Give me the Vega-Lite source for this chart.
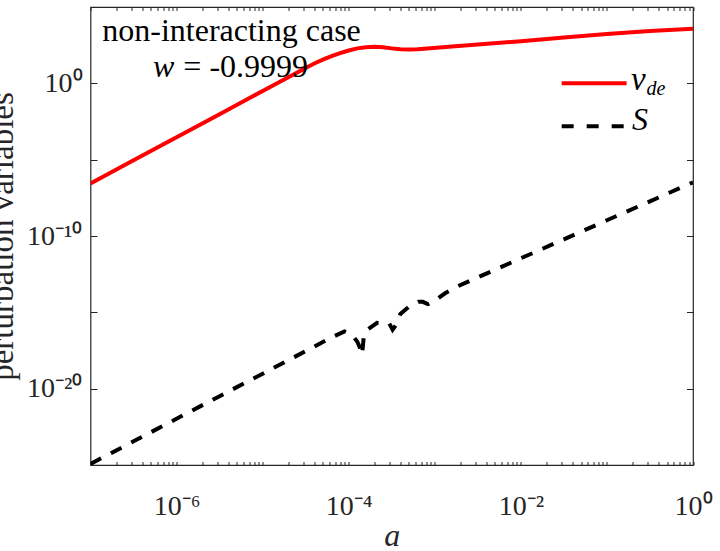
{
  "$schema": "https://vega.github.io/schema/vega-lite/v6.json",
  "width": 602.5,
  "height": 458,
  "autosize": {"type": "none"},
  "padding": {"left": 90.5, "top": 7, "right": 27, "bottom": 86},
  "background": "white",
  "config": {
    "view": {"stroke": "#262626", "strokeWidth": 1.2},
    "font": "Liberation Serif"
  },
  "datasets": {
    "curves": [
      {"series": "v_de", "a": 1e-7, "value": 2.754e-7},
      {"series": "v_de", "a": 3.162e-7, "value": 9.12e-6},
      {"series": "v_de", "a": 1e-6, "value": 2.951e-4},
      {"series": "v_de", "a": 3.162e-6, "value": 9.55e-3},
      {"series": "v_de", "a": 1e-5, "value": 0.3162},
      {"series": "v_de", "a": 3.162e-5, "value": 10.23},
      {"series": "v_de", "a": 3.981e-5, "value": 19.95},
      {"series": "v_de", "a": 5.012e-5, "value": 35.48},
      {"series": "v_de", "a": 6.31e-5, "value": 60.26},
      {"series": "v_de", "a": 7.943e-5, "value": 95.5},
      {"series": "v_de", "a": 1e-4, "value": 141.3},
      {"series": "v_de", "a": 1.259e-4, "value": 195.0},
      {"series": "v_de", "a": 1.585e-4, "value": 234.4},
      {"series": "v_de", "a": 1.995e-4, "value": 245.5},
      {"series": "v_de", "a": 2.512e-4, "value": 229.1},
      {"series": "v_de", "a": 3.162e-4, "value": 195.0},
      {"series": "v_de", "a": 3.981e-4, "value": 169.8},
      {"series": "v_de", "a": 5.012e-4, "value": 162.2},
      {"series": "v_de", "a": 6.31e-4, "value": 169.8},
      {"series": "v_de", "a": 8.913e-4, "value": 199.5},
      {"series": "v_de", "a": 1.585e-3, "value": 257.0},
      {"series": "v_de", "a": 3.162e-3, "value": 346.7},
      {"series": "v_de", "a": 0.01, "value": 575.4},
      {"series": "v_de", "a": 0.03162, "value": 1000},
      {"series": "v_de", "a": 0.1, "value": 1698},
      {"series": "v_de", "a": 0.3162, "value": 2692},
      {"series": "v_de", "a": 1, "value": 3802},
      {"series": "S", "a": 1e-7, "value": 1.175e-25},
      {"series": "S", "a": 3.162e-7, "value": 3.548e-24},
      {"series": "S", "a": 1e-6, "value": 1.072e-22},
      {"series": "S", "a": 3.162e-6, "value": 3.236e-21},
      {"series": "S", "a": 1e-5, "value": 9.55e-20},
      {"series": "S", "a": 3.162e-5, "value": 2.884e-18},
      {"series": "S", "a": 6.31e-5, "value": 2.239e-17},
      {"series": "S", "a": 8.913e-5, "value": 5.623e-17},
      {"series": "S", "a": 1.096e-4, "value": 3.388e-17},
      {"series": "S", "a": 1.259e-4, "value": 1.175e-17},
      {"series": "S", "a": 1.349e-4, "value": 4.786e-18},
      {"series": "S", "a": 1.429e-4, "value": 1.66e-18},
      {"series": "S", "a": 1.496e-4, "value": 2.512e-17},
      {"series": "S", "a": 1.585e-4, "value": 6.166e-17},
      {"series": "S", "a": 2.138e-4, "value": 2.042e-16},
      {"series": "S", "a": 2.951e-4, "value": 1.905e-16},
      {"series": "S", "a": 3.236e-4, "value": 7.244e-17},
      {"series": "S", "a": 3.548e-4, "value": 1.514e-16},
      {"series": "S", "a": 3.981e-4, "value": 7.943e-16},
      {"series": "S", "a": 5.129e-4, "value": 2.63e-15},
      {"series": "S", "a": 6.457e-4, "value": 4.898e-15},
      {"series": "S", "a": 7.244e-4, "value": 4.898e-15},
      {"series": "S", "a": 8.318e-4, "value": 3.467e-15},
      {"series": "S", "a": 1e-3, "value": 5.888e-15},
      {"series": "S", "a": 1.318e-3, "value": 1.778e-14},
      {"series": "S", "a": 1.82e-3, "value": 4.898e-14},
      {"series": "S", "a": 3.162e-3, "value": 1.95e-13},
      {"series": "S", "a": 0.01, "value": 3.467e-12},
      {"series": "S", "a": 0.03162, "value": 6.026e-11},
      {"series": "S", "a": 0.1, "value": 1.072e-9},
      {"series": "S", "a": 0.3162, "value": 1.862e-8},
      {"series": "S", "a": 1, "value": 3.311e-7}
    ]
  },
  "layer": [
    {
      "data": {"name": "curves"},
      "transform": [{"filter": "datum.series == 'v_de'"}],
      "mark": {"type": "line", "color": "#ff0000", "strokeWidth": 4, "clip": true},
      "encoding": {
        "x": {
          "field": "a", "type": "quantitative",
          "scale": {"type": "log", "domain": [1e-7, 1], "nice": false},
          "axis": {
            "orient": "bottom", "domain": false, "grid": false,
            "values": [1e-7, 2e-7, 3e-7, 4e-7, 5e-7, 6e-7, 7e-7, 8e-7, 9e-7,
                       1e-6, 2e-6, 3e-6, 4e-6, 5e-6, 6e-6, 7e-6, 8e-6, 9e-6,
                       1e-5, 2e-5, 3e-5, 4e-5, 5e-5, 6e-5, 7e-5, 8e-5, 9e-5,
                       1e-4, 2e-4, 3e-4, 4e-4, 5e-4, 6e-4, 7e-4, 8e-4, 9e-4,
                       1e-3, 2e-3, 3e-3, 4e-3, 5e-3, 6e-3, 7e-3, 8e-3, 9e-3,
                       0.01, 0.02, 0.03, 0.04, 0.05, 0.06, 0.07, 0.08, 0.09,
                       0.1, 0.2, 0.3, 0.4, 0.5, 0.6, 0.7, 0.8, 0.9, 1],
            "labelExpr": "datum.value == 1 ? '10⁰' : datum.value == 0.01 ? '10⁻²' : datum.value == 0.0001 ? '10⁻⁴' : datum.value == 0.000001 ? '10⁻⁶' : ''",
            "labelFont": "Liberation Serif", "labelFontSize": 28, "labelColor": "#262626",
            "labelPadding": 31, "labelOverlap": false, "labelFlush": false, "labelBound": false,
            "tickSize": -3.5, "tickColor": "#262626", "tickWidth": 1,
            "title": "a", "titleFont": "Liberation Serif", "titleFontSize": 32,
            "titleFontStyle": "italic", "titleFontWeight": "normal", "titleColor": "#262626",
            "titleY": 80, "titleBaseline": "alphabetic",
            "encode": {
              "ticks": {
                "update": {
                  "y2": [
                    {"test": "datum.value == 1 || datum.value == 0.01 || datum.value == 0.0001 || datum.value == 0.000001", "value": -7},
                    {"value": -3.5}
                  ]
                }
              }
            }
          }
        },
        "y": {
          "field": "value", "type": "quantitative",
          "scale": {"type": "log", "domain": [1e-25, 1e5], "nice": false},
          "axis": {
            "orient": "left", "domain": false, "grid": false,
            "values": [1e-20, 1e-15, 1e-10, 1e-5, 1],
            "labelExpr": "datum.value == 1 ? '10⁰' : datum.value > 1e-11 && datum.value < 1e-9 ? '10⁻¹⁰' : datum.value < 1e-19 && datum.value > 1e-21 ? '10⁻²⁰' : ''",
            "labelFont": "Liberation Serif", "labelFontSize": 28, "labelColor": "#262626",
            "labelPadding": 15, "labelOverlap": false, "labelBound": false, "labelFlush": false,
            "labelBaseline": "middle",
            "tickSize": -6.5, "tickColor": "#262626", "tickWidth": 1,
            "title": "perturbation variables", "titleFont": "Liberation Serif", "titleFontSize": 33,
            "titleFontWeight": "normal", "titleColor": "#262626",
            "titleAngle": 270, "titleX": -78, "titleY": 229,
            "titleAlign": "center", "titleBaseline": "alphabetic"
          }
        }
      }
    },
    {
      "data": {"name": "curves"},
      "transform": [{"filter": "datum.series == 'S'"}],
      "mark": {"type": "line", "color": "#000000", "strokeWidth": 4, "strokeDash": [12, 11], "clip": true},
      "encoding": {
        "x": {
          "field": "a", "type": "quantitative",
          "axis": {
            "orient": "top", "domain": false, "grid": false, "labels": false, "title": null,
            "values": [1e-7, 2e-7, 3e-7, 4e-7, 5e-7, 6e-7, 7e-7, 8e-7, 9e-7,
                       1e-6, 2e-6, 3e-6, 4e-6, 5e-6, 6e-6, 7e-6, 8e-6, 9e-6,
                       1e-5, 2e-5, 3e-5, 4e-5, 5e-5, 6e-5, 7e-5, 8e-5, 9e-5,
                       1e-4, 2e-4, 3e-4, 4e-4, 5e-4, 6e-4, 7e-4, 8e-4, 9e-4,
                       1e-3, 2e-3, 3e-3, 4e-3, 5e-3, 6e-3, 7e-3, 8e-3, 9e-3,
                       0.01, 0.02, 0.03, 0.04, 0.05, 0.06, 0.07, 0.08, 0.09,
                       0.1, 0.2, 0.3, 0.4, 0.5, 0.6, 0.7, 0.8, 0.9, 1],
            "tickSize": -3.5, "tickColor": "#262626", "tickWidth": 1,
            "encode": {
              "ticks": {
                "update": {
                  "y2": [
                    {"test": "datum.value == 1 || datum.value == 0.01 || datum.value == 0.0001 || datum.value == 0.000001", "value": 7},
                    {"value": 3.5}
                  ]
                }
              }
            }
          }
        },
        "y": {
          "field": "value", "type": "quantitative",
          "axis": {
            "orient": "right", "domain": false, "grid": false, "labels": false, "title": null,
            "values": [1e-20, 1e-15, 1e-10, 1e-5, 1],
            "tickSize": -6.5, "tickColor": "#262626", "tickWidth": 1
          }
        }
      }
    },
    {
      "data": {"values": [{}]},
      "mark": {"type": "rule", "color": "#ff0000", "strokeWidth": 4},
      "encoding": {
        "x": {"datum": 0.0298, "type": "quantitative", "axis": null},
        "x2": {"datum": 0.1694},
        "y": {"datum": 1, "type": "quantitative", "axis": null}
      }
    },
    {
      "data": {"values": [{}]},
      "mark": {"type": "rule", "color": "#000000", "strokeWidth": 4, "strokeDash": [12, 13]},
      "encoding": {
        "x": {"datum": 0.0298, "type": "quantitative", "axis": null},
        "x2": {"datum": 0.1694},
        "y": {"datum": 0.00155, "type": "quantitative", "axis": null}
      }
    },
    {
      "data": {"values": [{}]},
      "mark": {"type": "text", "text": "v", "font": "Liberation Serif", "fontStyle": "italic", "fontSize": 33, "align": "left", "baseline": "alphabetic", "color": "#000000"},
      "encoding": {
        "x": {"datum": 0.1905, "type": "quantitative", "axis": null},
        "y": {"datum": 0.348, "type": "quantitative", "axis": null}
      }
    },
    {
      "data": {"values": [{}]},
      "mark": {"type": "text", "text": "de", "font": "Liberation Serif", "fontStyle": "italic", "fontSize": 20, "align": "left", "baseline": "alphabetic", "color": "#000000"},
      "encoding": {
        "x": {"datum": 0.2877, "type": "quantitative", "axis": null},
        "y": {"datum": 0.164, "type": "quantitative", "axis": null}
      }
    },
    {
      "data": {"values": [{}]},
      "mark": {"type": "text", "text": "S", "font": "Liberation Serif", "fontStyle": "italic", "fontSize": 32, "align": "left", "baseline": "alphabetic", "color": "#000000"},
      "encoding": {
        "x": {"datum": 0.1954, "type": "quantitative", "axis": null},
        "y": {"datum": 0.00085, "type": "quantitative", "axis": null}
      }
    },
    {
      "data": {"values": [{}]},
      "mark": {"type": "text", "text": "non-interacting case", "font": "Liberation Serif", "fontSize": 32, "align": "center", "baseline": "alphabetic", "color": "#000000"},
      "encoding": {
        "x": {"datum": 0.00000435, "type": "quantitative", "axis": null},
        "y": {"datum": 582, "type": "quantitative", "axis": null}
      }
    },
    {
      "data": {"values": [{}]},
      "mark": {"type": "text", "text": "w", "font": "Liberation Serif", "fontStyle": "italic", "fontSize": 32, "align": "left", "baseline": "alphabetic", "color": "#000000"},
      "encoding": {
        "x": {"datum": 0.000000532, "type": "quantitative", "axis": null},
        "y": {"datum": 2.57, "type": "quantitative", "axis": null}
      }
    },
    {
      "data": {"values": [{}]},
      "mark": {"type": "text", "text": "= -0.9999", "font": "Liberation Serif", "fontSize": 32, "align": "right", "baseline": "alphabetic", "color": "#000000"},
      "encoding": {
        "x": {"datum": 0.0000337, "type": "quantitative", "axis": null},
        "y": {"datum": 2.57, "type": "quantitative", "axis": null}
      }
    }
  ],
  "resolve": {"axis": {"x": "independent", "y": "independent"}}
}
